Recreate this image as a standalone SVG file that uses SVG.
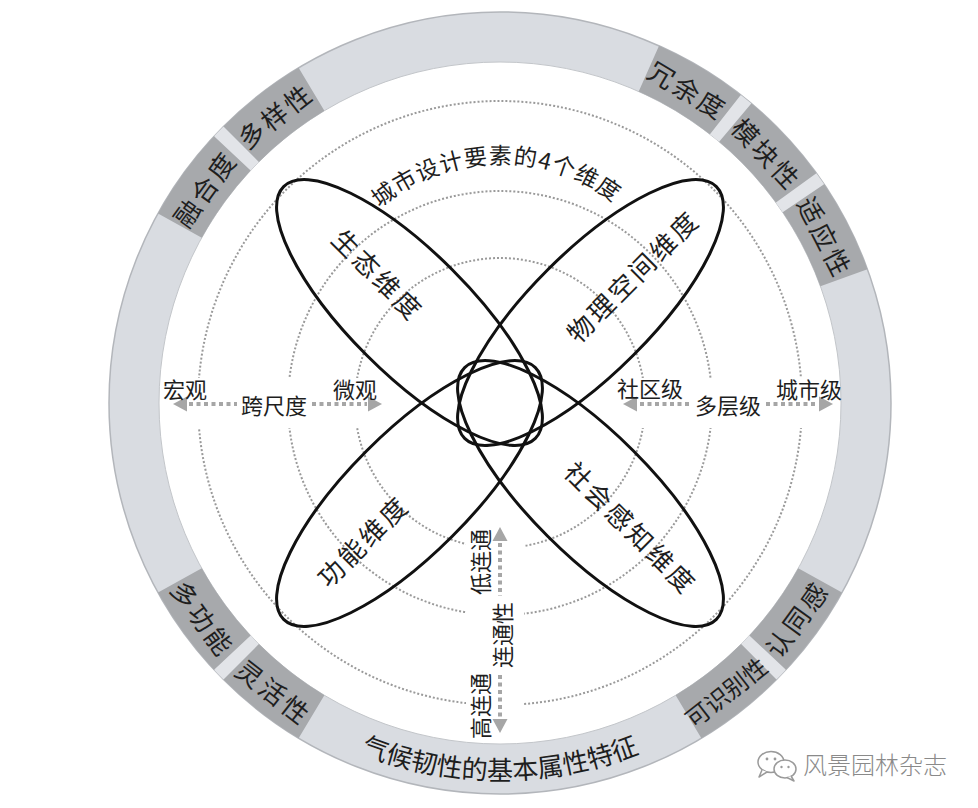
<svg xmlns="http://www.w3.org/2000/svg" xmlns:xlink="http://www.w3.org/1999/xlink" width="978" height="808" viewBox="0 0 978 808">
<style>
  .cjk { font-family: "Noto Sans CJK SC", "Noto Sans", sans-serif; }
  .seg { fill: #a7a9ac; }
  .gap { fill: #e2e4e8; }
  .seglbl { font-size: 26px; fill: #1e1e1e; text-anchor: middle; dominant-baseline: central; letter-spacing: 3px; }
  .dot { fill: none; stroke: #9a9a9a; stroke-width: 2; stroke-dasharray: 2 2; }
  .petal { fill: none; stroke: #111; stroke-width: 3; }
  .plbl { font-size: 26px; fill: #1e1e1e; text-anchor: middle; dominant-baseline: central; letter-spacing: 3px; }
  .axis { fill: none; stroke: #a6a6a6; stroke-width: 4; stroke-dasharray: 4 3.5; }
  .ahead { fill: #a6a6a6; }
  .albl { font-size: 22px; fill: #1e1e1e; text-anchor: middle; dominant-baseline: central; }
</style>
<defs>
  <path id="segshape" d="M452.349,14.914 A391,391 0 0 1 547.651,14.914 L541.557,64.542 A341,341 0 0 0 458.443,64.542 Z"/>
  <path id="gapshape" d="M493.176,12.06 A391,391 0 0 1 506.824,12.06 L505.951,62.052 A341,341 0 0 0 494.049,62.052 Z"/>
  <path id="titlearc" d="M123,403 A377,377 0 0 0 877,403"/>
  <path id="toparc" d="M314,350 A186,186 0 0 1 686,350"/>
</defs>
<rect x="0" y="0" width="978" height="808" fill="#ffffff"/>

<!-- outer ring -->
<g id="ring">
  <circle cx="500" cy="403" r="366" fill="none" stroke="#d9dce1" stroke-width="50"/>
  <circle cx="500" cy="403" r="391" fill="none" stroke="#b3b6bb" stroke-width="1.5"/>
  <circle cx="500" cy="403" r="341" fill="none" stroke="#c3c6ca" stroke-width="1"/>
  <use href="#gapshape" class="gap" transform="rotate(-46 500 403)"/>
  <use href="#gapshape" class="gap" transform="rotate(39 500 403)"/>
  <use href="#gapshape" class="gap" transform="rotate(55 500 403)"/>
  <use href="#gapshape" class="gap" transform="rotate(134 500 403)"/>
  <use href="#gapshape" class="gap" transform="rotate(-134 500 403)"/>
  <text class="cjk" font-size="26" fill="#1e1e1e"><textPath href="#titlearc" startOffset="50%" text-anchor="middle">气候韧性的基本属性特征</textPath></text>
</g>

<g id="seg-ronghedu">
  <use href="#segshape" class="seg" transform="rotate(-54 500 403)"/>
  <text class="cjk seglbl" x="500" y="37" transform="rotate(-54 500 403)">融合度</text>
</g>
<g id="seg-duoyangxing">
  <use href="#segshape" class="seg" transform="rotate(-38 500 403)"/>
  <text class="cjk seglbl" x="500" y="37" transform="rotate(-38 500 403)">多样性</text>
</g>
<g id="seg-rongyudu">
  <use href="#segshape" class="seg" transform="rotate(31 500 403)"/>
  <text class="cjk seglbl" x="500" y="37" transform="rotate(31 500 403)">冗余度</text>
</g>
<g id="seg-mokuaixing">
  <use href="#segshape" class="seg" transform="rotate(47 500 403)"/>
  <text class="cjk seglbl" x="500" y="37" transform="rotate(47 500 403)">模块性</text>
</g>
<g id="seg-shiyingxing">
  <use href="#segshape" class="seg" transform="rotate(63 500 403)"/>
  <text class="cjk seglbl" x="500" y="37" transform="rotate(63 500 403)">适应性</text>
</g>
<g id="seg-rentonggan">
  <use href="#segshape" class="seg" transform="rotate(126 500 403)"/>
  <text class="cjk seglbl" x="500" y="769" transform="rotate(-54 500 403)">认同感</text>
</g>
<g id="seg-keshibiexing">
  <use href="#segshape" class="seg" transform="rotate(142 500 403)"/>
  <text class="cjk seglbl" x="500" y="769" transform="rotate(-38 500 403)" style="letter-spacing:0px;font-size:24px">可识别性</text>
</g>
<g id="seg-duogongneng">
  <use href="#segshape" class="seg" transform="rotate(-126 500 403)"/>
  <text class="cjk seglbl" x="500" y="769" transform="rotate(54 500 403)">多功能</text>
</g>
<g id="seg-linghuoxing">
  <use href="#segshape" class="seg" transform="rotate(-142 500 403)"/>
  <text class="cjk seglbl" x="500" y="769" transform="rotate(38 500 403)">灵活性</text>
</g>

<!-- dotted scale circles -->
<g id="scale-circles">
  <circle class="dot" cx="500" cy="403" r="145"/>
  <circle class="dot" cx="500" cy="403" r="212"/>
  <circle class="dot" cx="500" cy="403" r="302"/>
  <rect x="163" y="378" width="227" height="50" fill="#ffffff"/>
  <rect x="610" y="378" width="227" height="50" fill="#ffffff"/>
  <rect x="466" y="522" width="58" height="216" fill="#ffffff"/>
</g>

<g id="title-4dims">
  <text class="cjk" font-size="23" fill="#1e1e1e" letter-spacing="1" transform="rotate(-1.3 500 350)"><textPath href="#toparc" startOffset="50%" text-anchor="middle">城市设计要素的4个维度</textPath></text>
</g>

<g id="petal-shengtai">
  <ellipse class="petal" cx="409.5" cy="312.5" rx="178" ry="60.5" transform="rotate(45 409.5 312.5)"/>
  <text class="cjk plbl" x="379" y="274" transform="rotate(45 379 274)">生态维度</text>
</g>
<g id="petal-wulikongjian">
  <ellipse class="petal" cx="590.5" cy="312.5" rx="178" ry="60.5" transform="rotate(-45 590.5 312.5)"/>
  <text class="cjk plbl" x="632" y="275" transform="rotate(-45 632 275)">物理空间维度</text>
</g>
<g id="petal-gongneng">
  <ellipse class="petal" cx="409.5" cy="493.5" rx="178" ry="60.5" transform="rotate(-45 409.5 493.5)"/>
  <text class="cjk plbl" x="362" y="540" transform="rotate(-45 362 540)">功能维度</text>
</g>
<g id="petal-shehuiganzhi">
  <ellipse class="petal" cx="590.5" cy="493.5" rx="178" ry="60.5" transform="rotate(45 590.5 493.5)"/>
  <text class="cjk plbl" x="632" y="527" transform="rotate(45 632 527)">社会感知维度</text>
</g>

<g id="connectors">
  <!-- cross-scale -->
  <polygon class="ahead" points="173,404 187,396.5 187,411.5"/>
  <line class="axis" x1="189" y1="404" x2="237" y2="404"/>
  <line class="axis" x1="312" y1="404" x2="367" y2="404"/>
  <polygon class="ahead" points="382,404 368,396.5 368,411.5"/>
  <!-- multi-level -->
  <polygon class="ahead" points="623,404 637,396.5 637,411.5"/>
  <line class="axis" x1="640" y1="404" x2="692" y2="404"/>
  <line class="axis" x1="766" y1="404" x2="818" y2="404"/>
  <polygon class="ahead" points="833,404 819,396.5 819,411.5"/>
  <!-- connectivity -->
  <polygon class="ahead" points="500,527 492.5,541 507.5,541"/>
  <line class="axis" x1="500" y1="543" x2="500" y2="596"/>
  <line class="axis" x1="500" y1="675" x2="500" y2="718"/>
  <polygon class="ahead" points="500,733 492.5,719 507.5,719"/>
</g>

<g id="axis-labels">
  <text class="cjk albl" x="185" y="388">宏观</text>
  <text class="cjk albl" x="274" y="404">跨尺度</text>
  <text class="cjk albl" x="355" y="388">微观</text>
  <text class="cjk albl" x="650" y="387">社区级</text>
  <text class="cjk albl" x="728" y="404">多层级</text>
  <text class="cjk albl" x="809" y="388">城市级</text>
  <text class="cjk albl" x="479" y="562" transform="rotate(-90 479 562)">低连通</text>
  <text class="cjk albl" x="501" y="635" transform="rotate(-90 501 635)">连通性</text>
  <text class="cjk albl" x="479" y="706" transform="rotate(-90 479 706)">高连通</text>
</g>

<g id="watermark">
  <ellipse cx="771" cy="762" rx="13" ry="10.5" fill="#ffffff" stroke="#9a9a9a" stroke-width="1.5"/>
  <path d="M762,770 L759,777 L767,772" fill="#ffffff" stroke="#9a9a9a" stroke-width="1.5" stroke-linejoin="round"/>
  <ellipse cx="785" cy="769" rx="11" ry="9" fill="#ffffff" stroke="#9a9a9a" stroke-width="1.5"/>
  <path d="M791,776 L794,781 L787,777.5" fill="#ffffff" stroke="#9a9a9a" stroke-width="1.5" stroke-linejoin="round"/>
  <circle cx="767" cy="759" r="1.4" fill="#9a9a9a"/>
  <circle cx="775" cy="759" r="1.4" fill="#9a9a9a"/>
  <circle cx="781.5" cy="767" r="1.2" fill="#9a9a9a"/>
  <circle cx="788.5" cy="767" r="1.2" fill="#9a9a9a"/>
  <text class="cjk" x="803" y="774" font-size="24" fill="#8a8a8a" font-weight="300">风景园林杂志</text>
</g>
</svg>
